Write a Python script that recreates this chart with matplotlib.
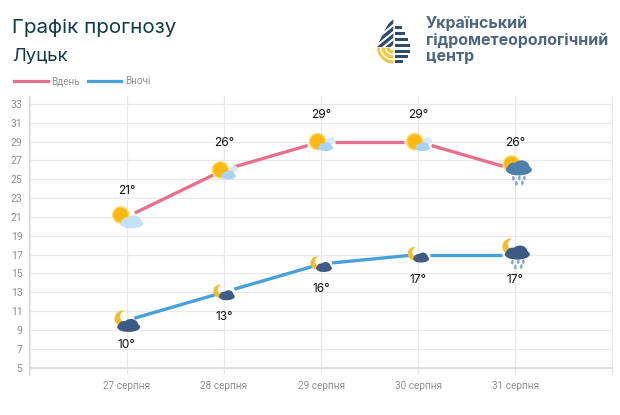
#!/usr/bin/env python3
"""Forecast chart for Lutsk: day and night temperatures with weather icons."""

import numpy as np
import matplotlib
matplotlib.use("Agg")
import matplotlib.pyplot as plt
from matplotlib.lines import Line2D
from matplotlib.patches import Ellipse, Polygon, Rectangle

W, H = 620, 415

dates = ["27 серпня", "28 серпня", "29 серпня", "30 серпня", "31 серпня"]
day_temps = [21, 26, 29, 29, 26]
night_temps = [10, 13, 16, 17, 17]
day_icons = ["sun_big", "sun", "sun", "sun", "sun_rain"]
night_icons = ["moon_big", "moon", "moon", "moon", "moon_rain"]
y_ticks = [5, 7, 9, 11, 13, 15, 17, 19, 21, 23, 25, 27, 29, 31, 33]

PINK = "#e8708f"
BLUE = "#48a2d8"
GRID = "#e8e8ea"
GREY = "#8e8e8e"
NAVY = "#0f3a4a"
LOGO = "#4d6680"
LOGO_DARK = "#2f4a6d"
LOGO_YELLOW = "#f2c744"

fig = plt.figure(figsize=(W / 100, H / 100), dpi=100)
fig.patch.set_facecolor("white")

# axes box in pixels of the picture
left, right, top, bottom = 29.5, 612.5, 96.0, 375.0
ax = fig.add_axes([left / W, 1 - bottom / H, (right - left) / W, (bottom - top) / H])
PX_Y = 263.5 / 28
PX_X = 97.2
ax.set_xlim(-1, 5)
ax.set_ylim(5 - (bottom - 367.5) / PX_Y, 33 + 8 / PX_Y)

ax.set_xticks(range(-1, 6))
ax.set_xticklabels([""] + dates + [""], fontsize=7.2, family="Roboto", color=GREY)
ax.set_yticks(y_ticks)
ax.set_yticklabels(y_ticks, fontsize=7.6, family="Roboto", color=GREY)
ax.tick_params(length=0, pad=5)
ax.tick_params(axis="x", pad=4)
ax.grid(True, color=GRID, linewidth=0.9)
ax.set_axisbelow(True)
for name, spine in ax.spines.items():
    spine.set_visible(name == "left")
    spine.set_color("#dcdce0")
ax.axhline(5, color="#dddde2", linewidth=1.3, zorder=1)


def trimmed(x0, y0, x1, y1, gap0, gap1):
    # end a segment short of the icons, the gaps are in pixels
    dx, dy = (x1 - x0) * PX_X, (y1 - y0) * PX_Y
    length = np.hypot(dx, dy)
    a, b = gap0 / length, 1 - gap1 / length
    return [x0 + (x1 - x0) * a, x0 + (x1 - x0) * b], [y0 + (y1 - y0) * a, y0 + (y1 - y0) * b]


def draw_series(values, color, gaps):
    for i in range(len(values) - 1):
        xs, ys = trimmed(i, values[i], i + 1, values[i + 1], gaps[i][1], gaps[i + 1][0])
        ax.plot(xs, ys, color=color, linewidth=2.4, solid_capstyle="butt", zorder=3)


def blob(x, y, dx, dy, w, h, color, z=5):
    # ellipse placed by a pixel offset from a data point, dy is downwards
    ax.add_patch(Ellipse((x + dx / PX_X, y - dy / PX_Y), w / PX_X, h / PX_Y,
                         facecolor=color, edgecolor="none", zorder=z))


def cloud(x, y, dx, dy, w, h, color, z=6):
    blob(x, y, dx, dy + 0.12 * h, w, 0.76 * h, color, z)
    blob(x, y, dx - 0.2 * w, dy + 0.05 * h, 0.5 * w, 0.8 * h, color, z)
    blob(x, y, dx + 0.1 * w, dy - 0.1 * h, 0.6 * w, 0.8 * h, color, z)


def sun(x, y, dx, dy, r):
    blob(x, y, dx, dy, 2 * r + 1.5, 2 * r + 1.5, "#fbd866", 5)
    blob(x, y, dx, dy, 2 * r - 1.5, 2 * r - 1.5, "#fdb813", 5)


def moon(x, y, dx, dy, r):
    # crescent: outer circle minus a smaller one shifted up and right
    phi = np.radians(30)
    r2, d = 0.75 * r, 0.5 * r
    a = np.arccos((d ** 2 + r ** 2 - r2 ** 2) / (2 * d * r))
    b = np.arccos((d ** 2 + r2 ** 2 - r ** 2) / (2 * d * r2))
    t1 = np.linspace(phi + a, phi + 2 * np.pi - a, 40)
    t2 = np.linspace(phi - b, phi + b - 2 * np.pi, 40)
    px = np.r_[r * np.cos(t1), d * np.cos(phi) + r2 * np.cos(t2)]
    py = np.r_[r * np.sin(t1), d * np.sin(phi) + r2 * np.sin(t2)]
    pts = np.c_[x + (dx + px) / PX_X, y + (py - dy) / PX_Y]
    ax.add_patch(Polygon(pts, closed=True, facecolor="#f4bd2c", edgecolor="none", zorder=5))


def drops(x, y, dx, dy):
    for ox, oy in [(-5, -2.5), (1, -3), (6, -3), (-2, 2.5), (4, 2)]:
        blob(x, y, dx + ox, dy + oy, 2.6, 4.8, "#7ea9d8", 5)


def draw_icon(kind, x, y):
    if kind == "sun_big":
        sun(x, y, -6, -2, 8)
        cloud(x, y, 5, 5, 23, 13, "#c5e0fa")
    elif kind == "sun":
        sun(x, y, -3.5, 0, 8)
        cloud(x, y, 9, -1, 11, 7, "#d8eafb", 4)
        cloud(x, y, 4.5, 5, 15, 9, "#a9d2f5")
    elif kind == "sun_rain":
        sun(x, y, -4, -6, 8)
        cloud(x, y, 3.5, -2, 26, 15, "#4f80ad")
        drops(x, y, 3, 11)
    elif kind == "moon_big":
        moon(x, y, -4, -2, 8)
        cloud(x, y, 2, 5, 23, 13, "#3d5a85")
    elif kind == "moon":
        moon(x, y, -4, -1, 6.5)
        cloud(x, y, 3, 3, 16, 10, "#3f5c86")
    elif kind == "moon_rain":
        moon(x, y, -5, -8, 8)
        cloud(x, y, 2, -2, 25, 14, "#3d5a85")
        drops(x, y, 2, 10)


# gaps in pixels before and after each icon
draw_series(day_temps, PINK, [(0, 9), (12, 11), (14, 14), (14, 14), (13, 0)])
draw_series(night_temps, BLUE, [(0, 8), (9, 11), (9, 11), (9, 12), (13, 0)])

for i, value in enumerate(day_temps):
    draw_icon(day_icons[i], i, value)
    ax.annotate(f"{value}°", (i, value), xytext=(0, 19), textcoords="offset points",
                ha="center", va="center", fontsize=8.6, family="Inter", color="#111111", zorder=7)
for i, value in enumerate(night_temps):
    draw_icon(night_icons[i], i, value)
    ax.annotate(f"{value}°", (i, value), xytext=(0, -18), textcoords="offset points",
                ha="center", va="center", fontsize=8.6, family="Inter", color="#111111", zorder=7)

# page overlay in picture pixels for the title, legend and logo
page = fig.add_axes([0, 0, 1, 1], zorder=10)
page.set_xlim(0, W)
page.set_ylim(H, 0)
page.axis("off")
page.patch.set_alpha(0)

page.text(12, 28, "Графік прогнозу", fontsize=14.8, family="Inter", color=NAVY, va="center")
page.text(12, 57, "Луцьк", fontsize=13.4, family="Inter", color=NAVY, va="center")

page.add_line(Line2D([14, 48], [81.5, 81.5], color=PINK, linewidth=2.3))
page.text(51, 81.5, "Вдень", fontsize=7.1, family="Roboto", color=GREY, va="center")
page.add_line(Line2D([88, 121], [81.5, 81.5], color=BLUE, linewidth=2.3))
page.text(125, 81.5, "Вночі", fontsize=7.1, family="Roboto", color=GREY, va="center")

for y, text in zip([23, 40, 57], ["Український", "гідрометеорологічний", "центр"]):
    page.text(426, y, text, fontsize=11.5, family="Inter", fontweight="bold", color=LOGO, va="center")


def half_width(y):
    # teardrop outline: taper from the tip to a round belly
    return np.where(y < 47, 17 * ((y - 18) / 29) ** 0.7, np.sqrt(np.clip(17 ** 2 - (y - 47) ** 2, 0, None)))


# logo: diagonal stripes upper left, bars right, yellow arcs lower left
cx = 394
ys_up = np.linspace(18, 47, 40)
clip_up = Polygon(np.r_[np.c_[cx - half_width(ys_up), ys_up], [[cx - 0.7, 47], [cx - 0.7, 18]]],
                  closed=True, facecolor="none", edgecolor="none")
ys_low = np.linspace(47.5, 65, 30)
clip_low = Polygon(np.r_[np.c_[cx - half_width(ys_low), ys_low], [[cx - 0.7, 65], [cx - 0.7, 47.5]]],
                   closed=True, facecolor="none", edgecolor="none")
page.add_patch(clip_up)
page.add_patch(clip_low)
for shift in range(0, 40, 7):
    stripe = Line2D([cx - 22, cx], [32 + shift, 14 + shift], color=LOGO_DARK, linewidth=2.4)
    page.add_line(stripe)
    stripe.set_clip_path(clip_up)
for r in [5, 10, 15]:
    th = np.linspace(np.pi * 0.5, np.pi, 20)
    arc = Line2D(cx - 1 + r * np.cos(th), 47 + r * np.sin(th), color=LOGO_YELLOW, linewidth=2.5)
    page.add_line(arc)
    arc.set_clip_path(clip_low)
for y in [26, 32, 38, 44, 50, 55.5, 60.5]:
    w = float(half_width(np.array(y + 1.2)))
    page.add_patch(Rectangle((cx + 0.7, y), w - 0.7, 2.6, facecolor=LOGO_DARK, edgecolor="none"))

fig.savefig("out.png", dpi=100, facecolor="white")
plt.close(fig)
